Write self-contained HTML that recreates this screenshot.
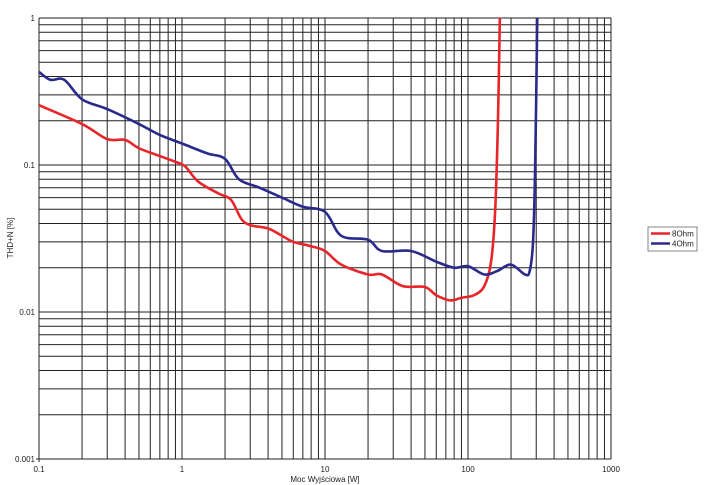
<!DOCTYPE html>
<html><head><meta charset="utf-8"><style>
body{margin:0;background:#fff;}
svg{display:block;font-family:"Liberation Sans",sans-serif;}
</style></head><body>
<svg id="s" width="705" height="485" xmlns="http://www.w3.org/2000/svg">
<g id="g" stroke="#222" stroke-width="1" fill="none"></g>
<g font-size="8" fill="#222">
<text x="35" y="21" text-anchor="end">1</text>
<text x="35" y="168" text-anchor="end">0.1</text>
<text x="35" y="315" text-anchor="end">0.01</text>
<text x="35" y="462" text-anchor="end">0.001</text>
<text x="39" y="472" text-anchor="middle">0.1</text>
<text x="182" y="472" text-anchor="middle">1</text>
<text x="325" y="472" text-anchor="middle">10</text>
<text x="468" y="472" text-anchor="middle">100</text>
<text x="611" y="472" text-anchor="middle">1000</text>
<text x="325" y="482" text-anchor="middle">Moc Wyjściowa [W]</text>
<text transform="translate(13,238) rotate(-90)" text-anchor="middle">THD+N [%]</text>
</g>
<path id="red" stroke="#e8262a" stroke-width="2.6" fill="none"/>
<path id="blue" stroke="#2a2a8c" stroke-width="2.6" fill="none"/>
<rect x="648" y="227" width="49" height="24" fill="#fff" stroke="#666" stroke-width="0.8"/>
<line x1="651" y1="233.5" x2="670" y2="233.5" stroke="#e8262a" stroke-width="2.4"/>
<line x1="651" y1="243.5" x2="670" y2="243.5" stroke="#2a2a8c" stroke-width="2.4"/>
<text x="672" y="236.5" font-size="8" fill="#222">8Ohm</text>
<text x="672" y="246.5" font-size="8" fill="#222">4Ohm</text>
</svg>
<script>
var X0=39,XD=143,Y0=18,YD=147;
function px(w){return X0+(Math.log10(w)+1)*XD;}
function py(v){return Y0-Math.log10(v)*YD;}
var g=document.getElementById('g'),h='';
for(var d=-1;d<3;d++)for(var k=1;k<10;k++){var x=px(k*Math.pow(10,d));h+='<line x1="'+x+'" y1="18" x2="'+x+'" y2="459"/>';}
h+='<line x1="611" y1="18" x2="611" y2="459"/>';
for(var d=-3;d<0;d++)for(var k=1;k<10;k++){var y=py(k*Math.pow(10,d));h+='<line x1="39" y1="'+y+'" x2="611" y2="'+y+'"/>';}
h+='<line x1="39" y1="18" x2="611" y2="18"/><line x1="36" y1="459" x2="39" y2="459"/><line x1="39" y1="459" x2="39" y2="462"/>';
g.innerHTML=h;
function curve(p){var pts=p.map(function(a){return [px(a[0]),py(a[1])];});
var s='M'+pts[0][0]+','+pts[0][1];
for(var i=0;i<pts.length-1;i++){var p0=pts[Math.max(i-1,0)],p1=pts[i],p2=pts[i+1],p3=pts[Math.min(i+2,pts.length-1)];
s+=' C'+(p1[0]+(p2[0]-p0[0])/6)+','+(p1[1]+(p2[1]-p0[1])/6)+' '+(p2[0]-(p3[0]-p1[0])/6)+','+(p2[1]-(p3[1]-p1[1])/6)+' '+p2[0]+','+p2[1];}
return s;}
var red=[[0.1,0.255],[0.2,0.19],[0.3,0.15],[0.4,0.148],[0.5,0.13],[0.7,0.115],[0.9,0.105],[1.05,0.098],[1.3,0.077],[1.8,0.064],[2.2,0.058],[2.6,0.043],[3,0.039],[4,0.037],[5,0.033],[6,0.03],[8,0.028],[10,0.026],[13,0.021],[20,0.018],[25,0.018],[35,0.015],[50,0.0148],[60,0.013],[75,0.012],[90,0.0125],[110,0.013],[130,0.015],[145,0.022],[155,0.05],[162,0.2],[167,1]];
var blue=[[0.1,0.43],[0.12,0.38],[0.15,0.38],[0.2,0.28],[0.3,0.24],[0.5,0.19],[0.7,0.16],[1,0.14],[1.5,0.12],[2,0.11],[2.5,0.08],[3.5,0.07],[5,0.06],[7,0.052],[10,0.048],[13,0.033],[20,0.031],[25,0.026],[40,0.026],[60,0.022],[80,0.02],[100,0.0205],[130,0.018],[160,0.019],[200,0.021],[250,0.018],[270,0.019],[285,0.03],[295,0.1],[305,1]];
document.getElementById('red').setAttribute('d',curve(red));
document.getElementById('blue').setAttribute('d',curve(blue));
</script>
</body></html>
